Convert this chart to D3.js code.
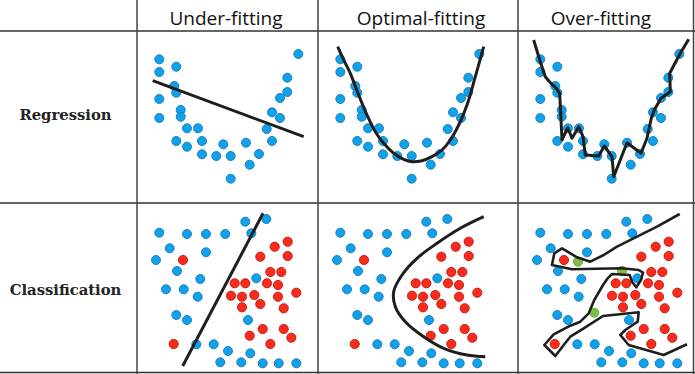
<!DOCTYPE html>
<html><head><meta charset="utf-8">
<script src="https://cdn.jsdelivr.net/npm/d3@7"></script>
<style>html,body{margin:0;padding:0;background:#fff;}svg{display:block;}</style>
</head><body>
<script>
// ---------------- DATA ----------------
const columnTitles = ["Under-fitting", "Optimal-fitting", "Over-fitting"];
const rowTitles = ["Regression", "Classification"];

// regression sample points (local panel units)
const regX = [21.3,21.3,38.3,36.3,38.3,21.3,21.3,42.7,42.7,49,60,38.3,49,64,64,78.3,85.3,92.7,92.7,108,111.7,121,128.7,134,134,142,142,149.3,149.3,160.3];
const regY = [28.3,41,35.7,55,61.7,68,87,79,85.7,97.3,97.3,110,115.7,110,123.3,125,113.3,125,147.7,111.7,133.7,123,98,110,81.3,87,67,61,46.7,23];

// regression fits
const underFitLine = [[14.7,49.7],[165.7,105.7]];
const optimalFitCurve = [[18.7,15.7],[24.7,29],[31.3,42.3],[39.7,64],[48,84],[56.3,100.7],[64.7,112.3],[74.7,122.3],[84.7,128.3],[93,130.7],[103,129.7],[113,125.7],[123,119],[131.3,109],[139.7,94],[148,74],[156.3,45.7],[164.7,15.7]];
const overFitLine = [[14.7,9],[20.7,29],[26.3,45.7],[31.3,51.7],[37.3,57.3],[40.7,62.3],[43,109],[48.7,96.7],[53,107.3],[59.7,95.7],[64,105.7],[66.3,124],[79.7,125],[85.3,115],[93,125.7],[94.7,145.7],[108,111.7],[122,122.3],[128,107.3],[132.3,87.3],[135.3,79],[142,67.3],[151.3,60.7],[150.7,42.3],[161.3,22.3],[169.7,8.3]];

// classification points
const blueX = [107.3,128.3,21.3,49,68,87.3,113.3,31.7,68,18,39,62.3,118.3,28,45.7,59.7,38.3,49,110,58.3,75.7,90,112.3,82.3,103.3,124.7,140.7,158.3];
const blueY = [18.7,16,29.7,31,31,31,30.3,45.3,49.3,57,68,76,75.3,86.3,86.3,93.7,112,117,117,141.3,141.3,148,150.3,159.3,159.3,160.3,160.3,160.3];
const redX = [149.7,136.7,122.3,149.7,45,132.3,143.3,96.7,107.3,129,140,158.3,93,104,116.3,140,122.3,104,145.7,124.7,145.7,111.7,153.3,132.3,35.7];
const redY = [38.7,43.7,53.7,53,57,69,69,80.3,80.3,80.3,82,89.7,92.7,93.7,92,93.7,101,104.3,105.3,126,126,132.7,134.7,141,141];
const greenX = [59,103,75.3];
const greenY = [58.7,67.7,109.7];

// classification boundaries
const linearBoundary = [[125,10.3],[44.7,163]];
const optimalBoundary = [[164.7,13.7],[141.3,25.3],[118,40.3],[98,55.3],[83,72],[74.7,88.7],[76.3,103.7],[86.3,118.7],[104.7,133.7],[124.7,145.3],[148,152],[166.3,153.7]];
const overBoundary = [[160.7,11],[138,23.7],[118,33.7],[98,43.7],[84.7,52],[71.3,58.7],[58,54.3],[43,45.3],[35.3,50.3],[33,62],[53,66.3],[103,65.3],[119.7,67],[124,69.7],[122,77],[117.3,84.3],[113,78.7],[110.7,72],[93,71],[88.7,75.3],[84,82],[75.3,97],[69.7,110.3],[61.3,118.7],[51.3,122.7],[34.7,131.3],[25.3,142],[36.3,153],[44.7,142],[51.3,133.7],[64.7,125.3],[84,113],[119.7,109.3],[118.7,118.7],[106.3,127],[101.3,132],[109.7,142],[144.7,152],[168,141.3]];

// ---------------- LAYOUT ----------------
const W = 695, H = 374;
const colOrigins = [138, 319, 519];
const rowOrigins = [31, 203];
const vSep = [137, 318, 518, 693.5];
const hSep = [31, 203, 372.5];

const svg = d3.select("body").append("svg").attr("width", W).attr("height", H);

// grid lines
svg.append("g").selectAll("line.h").data(hSep).join("line")
  .attr("x1", 0).attr("x2", W).attr("y1", d => d).attr("y2", d => d)
  .attr("stroke", "#333").attr("stroke-width", 1.5);
svg.append("g").selectAll("line.v").data(vSep).join("line")
  .attr("x1", d => d).attr("x2", d => d).attr("y1", 0).attr("y2", H)
  .attr("stroke", "#444").attr("stroke-width", 1.5);

// headers
const headerCenters = [226, 421, 601];
svg.append("g").selectAll("text").data(columnTitles).join("text")
  .attr("x", (d, i) => headerCenters[i]).attr("y", 25)
  .attr("text-anchor", "middle")
  .style("font-family", "'Open Sans', sans-serif").style("font-size", "19px")
  .attr("fill", "#111").text(d => d);

// row labels
const rowLabelY = [120, 295];
svg.append("g").selectAll("text").data(rowTitles).join("text")
  .attr("x", 65.5).attr("y", (d, i) => rowLabelY[i])
  .attr("text-anchor", "middle")
  .style("font-family", "'DejaVu Serif', serif").style("font-size", "14.8px").style("font-weight", "bold")
  .attr("fill", "#222").text(d => d);

const line = d3.line();
const smooth = d3.line().curve(d3.curveCatmullRom.alpha(0.5));

function panel(ci, ri) {
  const x = d3.scaleLinear().domain([0, 180]).range([colOrigins[ci], colOrigins[ci] + 180]);
  const y = d3.scaleLinear().domain([0, 172]).range([rowOrigins[ri], rowOrigins[ri] + 172]);
  const g = svg.append("g");
  return {x, y, g};
}

function dots(p, xs, ys, fill, stroke, r) {
  p.g.append("g").selectAll("circle").data(xs).join("circle")
    .attr("cx", d => p.x(d)).attr("cy", (d, i) => p.y(ys[i])).attr("r", r)
    .attr("fill", fill).attr("stroke", stroke).attr("stroke-width", 1);
}
function path(p, pts, gen, w) {
  p.g.append("path").attr("d", gen(pts.map(d => [p.x(d[0]), p.y(d[1])])))
    .attr("fill", "none").attr("stroke", "#1e1e1e").attr("stroke-width", w)
    .attr("stroke-linejoin", "round").attr("stroke-linecap", "butt");
}

const BLUE = "#10a2e8", BLUE_S = "#1b80c4", RED = "#ff2a1c", RED_S = "#b8261c", GREEN = "#7cc043";
const R = 4.5;

// regression row
const regFits = [[underFitLine, line], [optimalFitCurve, smooth], [overFitLine, line]];
regFits.forEach((f, ci) => {
  const p = panel(ci, 0);
  dots(p, regX, regY, BLUE, BLUE_S, R);
  path(p, f[0], f[1], 3);
});

// classification row
const clsFits = [[linearBoundary, line], [optimalBoundary, smooth], [overBoundary, line]];
clsFits.forEach((f, ci) => {
  const p = panel(ci, 1);
  dots(p, blueX, blueY, BLUE, BLUE_S, R);
  p.g.append("g").selectAll("circle").data(redX).join("circle")
    .attr("cx", d => p.x(d)).attr("cy", (d, i) => p.y(redY[i])).attr("r", R + 0.8)
    .attr("fill", "#ffb3a8").attr("opacity", 0.6);
  dots(p, redX, redY, RED, RED_S, R);
  if (ci === 2) dots(p, greenX, greenY, GREEN, "#6aa83a", R);
  path(p, f[0], f[1], ci === 2 ? 2.6 : 3);
});
</script>
</body></html>
